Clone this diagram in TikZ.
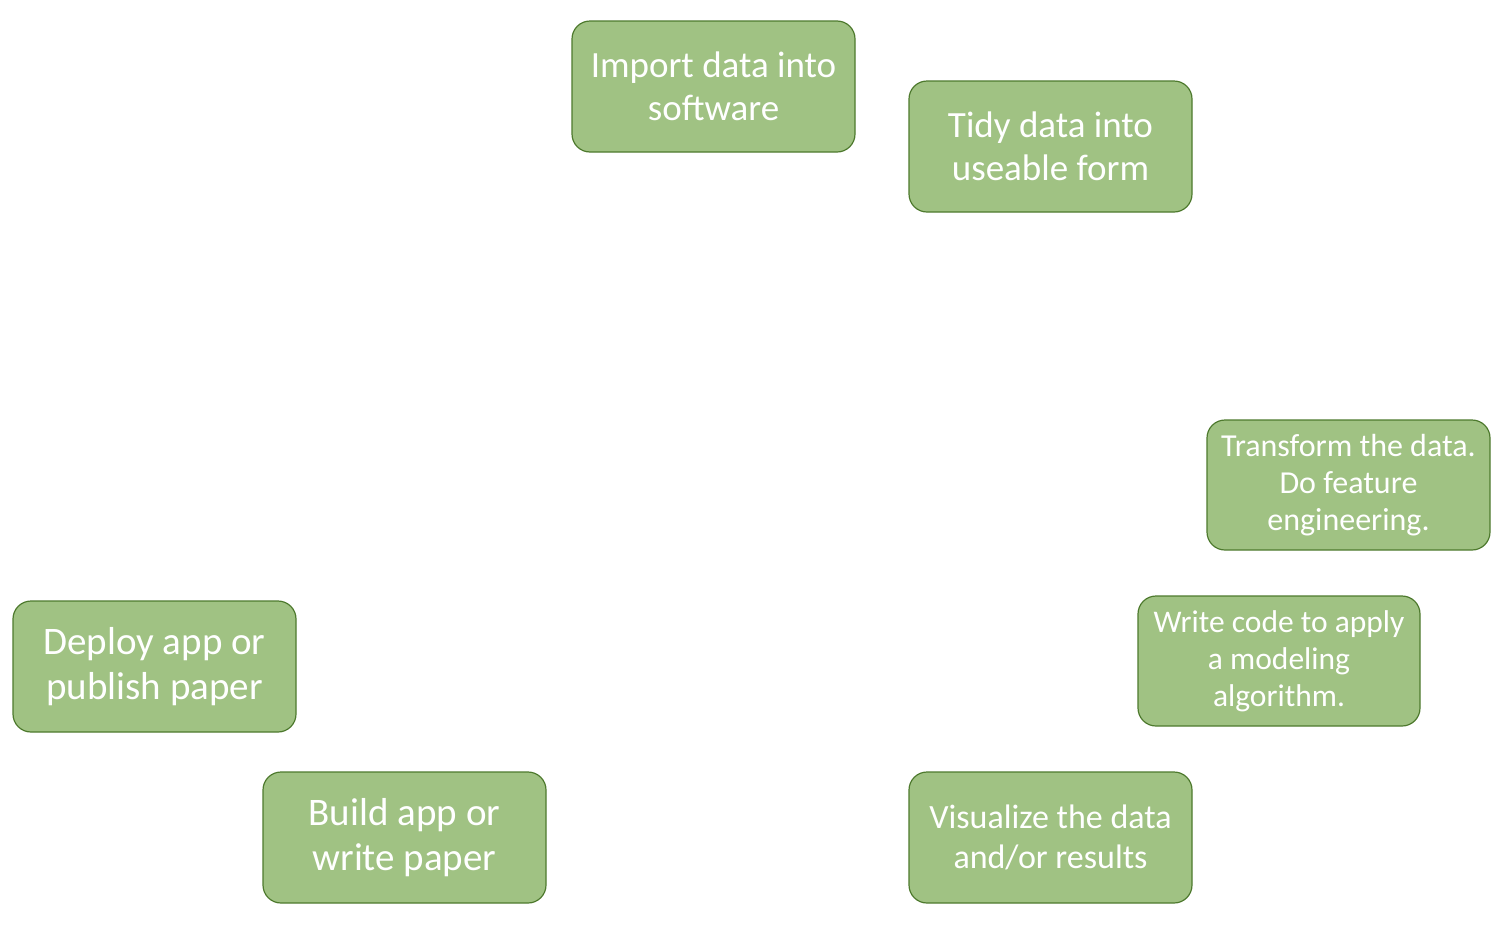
\documentclass[tikz,border=0pt]{standalone}
\usepackage{fontspec}
\setmainfont{Carlito}
\definecolor{boxfill}{HTML}{A0C283}
\definecolor{boxline}{HTML}{4E7A2E}
\begin{document}
\begin{tikzpicture}[x=1pt,y=-1pt,
  stepbox/.style={draw=boxline, fill=boxfill, line width=1.2pt, rounded corners=18pt,
    text=white, align=center, inner sep=0pt, outer sep=0pt},
  bigA/.style={font=\fontsize{37}{43}\selectfont},
  bigB/.style={font=\fontsize{39}{45}\selectfont},
  mid/.style={font=\fontsize{34}{40}\selectfont},
  small/.style={font=\fontsize{32}{37}\selectfont}]
\useasboundingbox (0,0) rectangle (1499,935);
\fill[white] (0,0) rectangle (1499,935);
\node[stepbox, bigA, minimum width=283pt, minimum height=131pt] (import) at (713.5,86.5) {Import data into\\software};
\node[stepbox, bigA, minimum width=283pt, minimum height=131pt] (tidy) at (1050.5,146.5) {Tidy data into\\useable form};
\node[stepbox, small, minimum width=283pt, minimum height=130pt] (transform) at (1348.5,485) {Transform the data.\\Do feature\\engineering.};
\node[stepbox, small, minimum width=282pt, minimum height=130pt, font=\fontsize{31.5}{37}\selectfont] (model) at (1279,661) {Write code to apply\\a modeling\\algorithm.};
\node[stepbox, mid, minimum width=283pt, minimum height=131pt] (visual) at (1050.5,837.5) {Visualize the data\\and/or results};
\node[stepbox, bigB, minimum width=283pt, minimum height=131pt] (build) at (404.5,837.5) {Build app or\\write paper};
\node[stepbox, bigB, minimum width=283pt, minimum height=131pt] (deploy) at (154.5,666.5) {Deploy app or\\publish paper};
\end{tikzpicture}
\end{document}
